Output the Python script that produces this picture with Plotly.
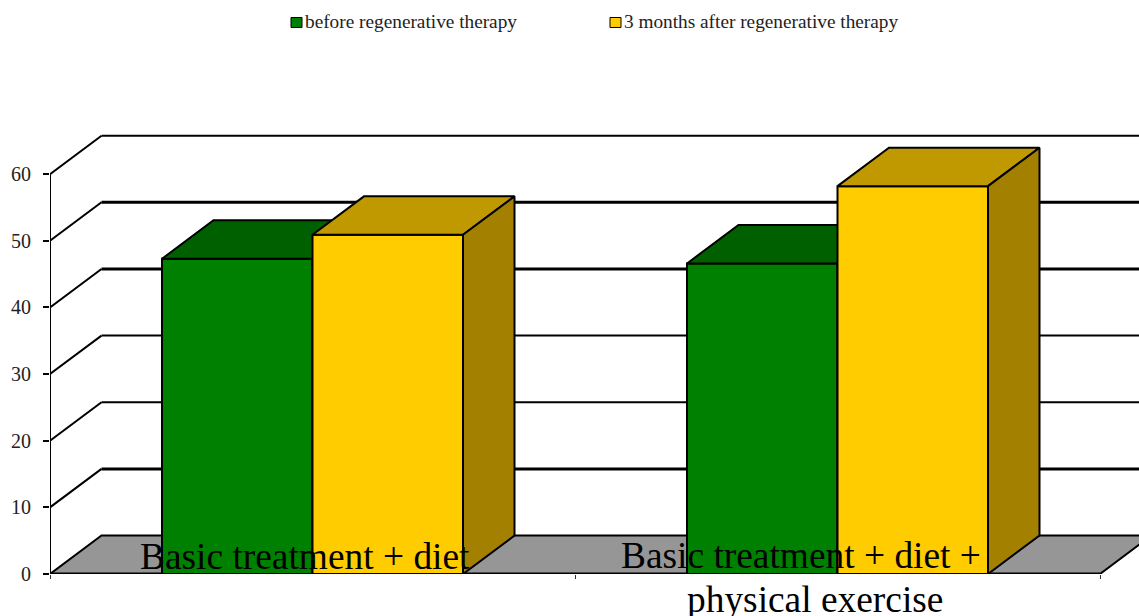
import plotly.graph_objects as go

categories = ["Basic treatment + diet", "Basic treatment + diet +<br>physical exercise"]
series_names = ["before regenerative therapy", "3 months after regenerative therapy"]
before = [47.3, 46.6]
after = [50.9, 58.2]
y_ticks = [0, 10, 20, 30, 40, 50, 60]

W, H = 1139, 616
L, B = 50, 41.5
PX_PER_CAT = 525.0
PX_PER_UNIT = 6.67
DX = 51.5 / PX_PER_CAT
DY = 38.5 / PX_PER_UNIT
BAR_W = 150.5 / PX_PER_CAT
GAP = 112 / PX_PER_CAT
FONT = "Liberation Serif"
GRID_W = {0: 2, 10: 3, 20: 2, 30: 2, 40: 3, 50: 3, 60: 2}


def px(x):
    return (x - L) / (W - L)


def py(y):
    return (H - B - y) / (H - B)


def faces(x0, v, front_top, side):
    x1 = x0 + BAR_W
    line = dict(color="black", width=2)
    top = go.Scatter(x=[x0, x0 + DX, x1 + DX, x1, x0], y=[v, v + DY, v + DY, v, v],
                     mode="lines", fill="toself", fillcolor=front_top, line=line,
                     hoverinfo="skip", showlegend=False)
    sd = go.Scatter(x=[x1, x1 + DX, x1 + DX, x1, x1], y=[v, v + DY, DY, 0, v],
                    mode="lines", fill="toself", fillcolor=side, line=line,
                    hoverinfo="skip", showlegend=False)
    return top, sd


fig = go.Figure()
n = len(categories)
xs_before = [i + GAP for i in range(n)]
xs_after = [i + GAP + BAR_W for i in range(n)]

fig.add_trace(go.Bar(x=xs_before, y=before, width=BAR_W, offset=0, name=series_names[0],
                     marker=dict(color="#008000", line=dict(color="black", width=2)),
                     showlegend=False, xaxis="x", yaxis="y"))
for x0, v in zip(xs_before, before):
    for t in faces(x0, v, "#006000", "#005000"):
        t.update(xaxis="x", yaxis="y")
        fig.add_trace(t)

fig.add_trace(go.Bar(x=xs_after, y=after, width=BAR_W, offset=0, name=series_names[1],
                     marker=dict(color="#FFCC00", line=dict(color="black", width=2)),
                     showlegend=False, xaxis="x2", yaxis="y2"))
for x0, v in zip(xs_after, after):
    for t in faces(x0, v, "#C09900", "#A38000"):
        t.update(xaxis="x2", yaxis="y2")
        fig.add_trace(t)

shapes = []
# floor
shapes.append(dict(type="path", xref="x", yref="y", layer="below",
                   path=f"M 0 0 L {DX} {DY} L {n + DX} {DY} L {n} 0 Z",
                   fillcolor="#969696", line=dict(color="black", width=2)))
# wall gridlines: a thin diagonal up the side wall, then the run along the back wall
for v in y_ticks[1:]:
    shapes.append(dict(type="line", xref="x", yref="y", layer="below",
                       x0=0, y0=v, x1=DX, y1=v + DY,
                       line=dict(color="black", width=2)))
    shapes.append(dict(type="line", xref="x", yref="y", layer="below",
                       x0=DX, y0=v + DY, x1=n + DX, y1=v + DY,
                       line=dict(color="black", width=GRID_W[v])))
# axis lines
shapes.append(dict(type="line", xref="x", yref="y", layer="below", x0=0, x1=0, y0=0, y1=max(y_ticks),
                   line=dict(color="black", width=2)))
shapes.append(dict(type="line", xref="x", yref="y", layer="below", x0=0, x1=n, y0=0, y1=0,
                   line=dict(color="black", width=3)))

annotations = []
# category labels, set over the bars
label_spots = [[(305, 557)], [(801, 556), (815, 600)]]
for cat, spots in zip(categories, label_spots):
    for text, (cx, cy) in zip(cat.split("<br>"), spots):
        annotations.append(dict(text=text, xref="paper", yref="paper", x=px(cx), y=py(cy),
                                xanchor="center", yanchor="middle", showarrow=False,
                                font=dict(family=FONT, size=37.4, color="black")))

# legend row
legend_spots = [(291, 305, "#008000"), (610, 624, "#FFCC00")]
for name, (sx, tx, col) in zip(series_names, legend_spots):
    shapes.append(dict(type="rect", xref="paper", yref="paper", layer="above",
                       x0=px(sx), x1=px(sx + 11), y0=py(27.5), y1=py(17.5),
                       fillcolor=col, line=dict(color="black", width=1)))
    annotations.append(dict(text=name, xref="paper", yref="paper", x=px(tx), y=py(21.6),
                            xanchor="left", yanchor="middle", showarrow=False,
                            xshift=-2, font=dict(family=FONT, size=19.3, color="#222222")))

x_range = [0, (W - L) / PX_PER_CAT]
y_range = [0, (H - B) / PX_PER_UNIT]

fig.update_layout(
    width=W, height=H, autosize=False,
    margin=dict(l=L, r=0, t=0, b=B, pad=0),
    paper_bgcolor="white", plot_bgcolor="white",
    barmode="overlay", showlegend=False,
    font=dict(family=FONT, color="#222222"),
    xaxis=dict(range=x_range, showgrid=False, zeroline=False, showline=False,
               tickmode="array", tickvals=list(range(n + 1)), ticktext=[""] * (n + 1),
               ticks="outside", ticklen=4, tickwidth=1, tickcolor="#333333"),
    yaxis=dict(range=y_range, showgrid=False, zeroline=False, showline=False,
               tickmode="array", tickvals=y_ticks, ticks="outside", ticklen=6,
               tickwidth=2, tickcolor="black", ticklabelstandoff=8,
               tickfont=dict(family=FONT, size=20, color="#222222")),
    xaxis2=dict(range=x_range, overlaying="x", visible=False),
    yaxis2=dict(range=y_range, overlaying="y", visible=False),
    shapes=shapes, annotations=annotations,
)

fig.write_html("out.html", config={"displayModeBar": False},
               post_script="document.body.style.margin='0';document.body.style.overflow='hidden';")
